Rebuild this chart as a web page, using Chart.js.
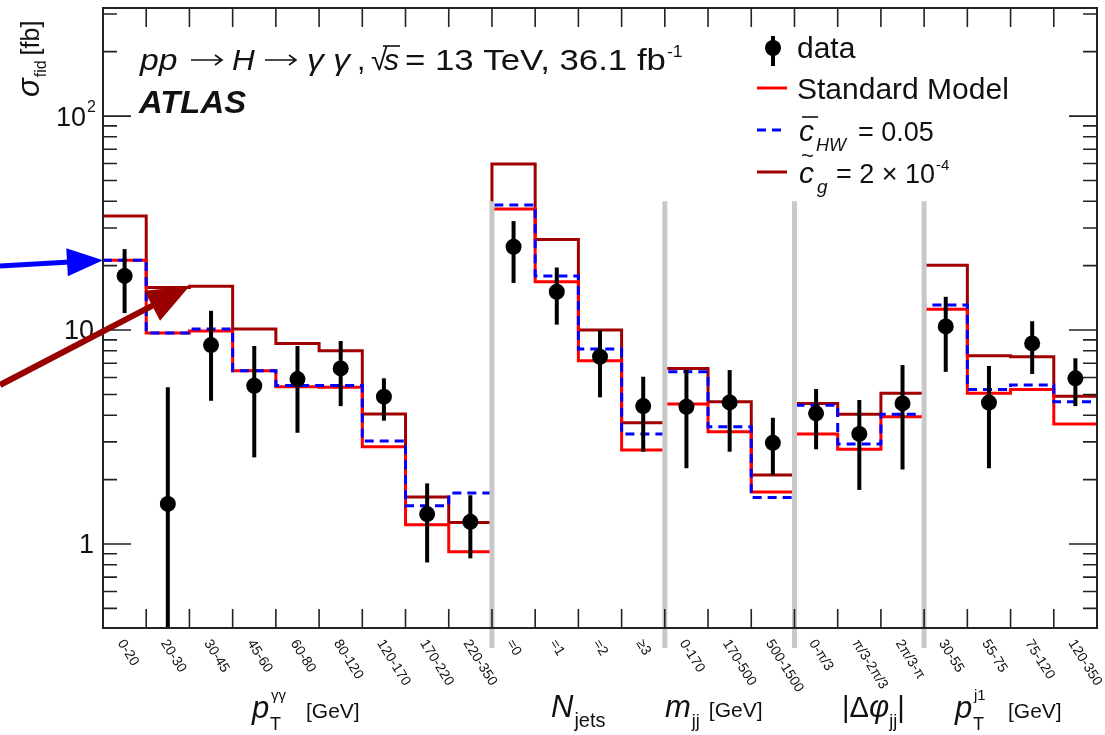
<!DOCTYPE html>
<html>
<head>
<meta charset="utf-8">
<script src="https://cdn.jsdelivr.net/npm/chart.js@4.4.0/dist/chart.umd.min.js"></script>
<style>
  body { margin: 0; background: #fff; }
</style>
</head>
<body>
<canvas id="chart" width="1105" height="735"></canvas>
<script>
// bin labels, one per bin
const binLabels = ["0-20", "20-30", "30-45", "45-60", "60-80", "80-120", "120-170", "170-220", "220-350",
  "=0", "=1", "=2", "\u22653",
  "0-170", "170-500", "500-1500",
  "0-\u03c0/3", "\u03c0/3-2\u03c0/3", "2\u03c0/3-\u03c0",
  "30-55", "55-75", "75-120", "120-350"];
// bin index where each new variable starts (gray separators)
const sectionEdges = [9, 13, 16, 19];

const smValues  = [21.2, 9.7, 9.9, 6.45, 5.43, 5.4, 2.85, 1.23, 0.92, 36.8, 16.8, 7.19, 2.75, 4.51, 3.35, 1.75, 3.27, 2.77, 3.93, 12.5, 5.06, 5.28, 3.64];
const chwValues = [21.2, 9.7, 10.1, 6.45, 5.5, 5.5, 3.03, 1.51, 1.73, 38.4, 17.9, 8.15, 3.27, 6.38, 3.53, 1.65, 4.45, 2.93, 4.04, 13.1, 5.28, 5.53, 4.62];
const cgValues  = [34.1, 15.8, 16.0, 10.1, 8.66, 8.0, 4.05, 1.66, 1.26, 59.7, 26.5, 10.0, 3.69, 6.62, 4.62, 2.10, 4.54, 4.04, 5.06, 20.1, 7.59, 7.5, 4.91];
const dataValues = [17.9, 1.54, 8.51, 5.49, 5.9, 6.62, 4.88, 1.38, 1.27, 24.5, 15.1, 7.5, 4.41, 4.38, 4.59, 2.97, 4.08, 3.27, 4.54, 10.4, 4.58, 8.66, 5.95];
const dataHigh  = [23.9, 5.41, 12.3, 8.42, 8.42, 8.89, 5.95, 1.92, 1.69, 32.3, 19.6, 10.0, 6.05, 6.5, 6.5, 3.89, 5.3, 4.71, 6.86, 14.3, 6.79, 11.0, 7.38];
const dataLow   = [12.0, 0.1, 4.67, 2.54, 3.31, 4.41, 3.77, 0.82, 0.857, 16.6, 10.6, 4.85, 2.70, 2.26, 2.70, 2.10, 2.77, 1.79, 2.23, 6.38, 2.26, 6.23, 4.41];

const yMin = 0.405, yMax = 320;

const FONT = '"Liberation Sans", Arial, sans-serif';

// histogram outline: one point per bin edge
function steps(vals) {
  const pts = vals.map((v, i) => ({ x: i, y: v }));
  pts.push({ x: vals.length, y: vals[vals.length - 1] });
  return pts;
}

function rich(ctx, x, y, parts) {
  // parts: [text, font, dy, dx]
  for (const p of parts) {
    ctx.font = p[1];
    x += p[3] || 0;
    ctx.fillText(p[0], x, y + (p[2] || 0));
    x += ctx.measureText(p[0]).width;
  }
  return x;
}

// text stretched horizontally, returns end x
function wide(ctx, s, x, y, font, sx) {
  ctx.save();
  ctx.font = font;
  ctx.translate(x, y);
  ctx.scale(sx, 1);
  ctx.fillText(s, 0, 0);
  const w = ctx.measureText(s).width * sx;
  ctx.restore();
  return x + w;
}

function textArrow(ctx, x0, x1, y) {
  ctx.beginPath();
  ctx.moveTo(x0, y); ctx.lineTo(x1, y);
  ctx.moveTo(x1 - 7, y - 5); ctx.lineTo(x1, y); ctx.lineTo(x1 - 7, y + 5);
  ctx.stroke();
}

function arrow(ctx, x0, y0, x1, y1, color, w, headLen, headW) {
  const a = Math.atan2(y1 - y0, x1 - x0);
  ctx.save();
  ctx.strokeStyle = color;
  ctx.fillStyle = color;
  ctx.lineWidth = w;
  ctx.beginPath();
  ctx.moveTo(x0, y0);
  ctx.lineTo(x1 - headLen * 0.8 * Math.cos(a), y1 - headLen * 0.8 * Math.sin(a));
  ctx.stroke();
  ctx.translate(x1, y1);
  ctx.rotate(a);
  ctx.beginPath();
  ctx.moveTo(0, 0);
  ctx.lineTo(-headLen, -headW);
  ctx.lineTo(-headLen, headW);
  ctx.closePath();
  ctx.fill();
  ctx.restore();
}

const decor = {
  id: "decor",
  beforeDatasetDraw(chart, args) {
    if (args.index !== 0) return;
    const { ctx, chartArea: ca, scales: { x, y } } = chart;
    ctx.save();
    ctx.beginPath();
    ctx.rect(ca.left, ca.top, ca.width, ca.height);
    ctx.clip();
    ctx.strokeStyle = "#000";
    ctx.lineWidth = 4;
    dataValues.forEach((v, i) => {
      const px = x.getPixelForValue(i + 0.5);
      ctx.beginPath();
      ctx.moveTo(px, y.getPixelForValue(dataHigh[i]));
      ctx.lineTo(px, y.getPixelForValue(dataLow[i]));
      ctx.stroke();
    });
    ctx.restore();
  },
  afterDatasetsDraw(chart) {
    const { ctx, chartArea: ca, scales: { x, y } } = chart;
    ctx.save();
    ctx.strokeStyle = "#c8c8c8";
    ctx.lineWidth = 5;
    sectionEdges.forEach(e => {
      const px = x.getPixelForValue(e);
      ctx.beginPath();
      ctx.moveTo(px, y.getPixelForValue(40));
      ctx.lineTo(px, ca.bottom + 20);
      ctx.stroke();
    });
    ctx.restore();
  },
  afterDraw(chart) {
    const { ctx, chartArea: ca, scales: { x, y } } = chart;
    ctx.save();
    // frame
    ctx.strokeStyle = "#222";
    ctx.lineWidth = 2;
    ctx.strokeRect(ca.left, ca.top, ca.width, ca.height);
    ctx.lineWidth = 1.6;
    // x ticks at bin edges
    for (let i = 1; i < binLabels.length; i++) {
      const px = x.getPixelForValue(i);
      ctx.beginPath();
      ctx.moveTo(px, ca.bottom); ctx.lineTo(px, ca.bottom - 19);
      ctx.moveTo(px, ca.top); ctx.lineTo(px, ca.top + 19);
      ctx.stroke();
    }
    // y ticks, log
    for (let d = -1; d <= 2; d++) {
      for (let m = 1; m <= 9; m++) {
        const v = m * Math.pow(10, d);
        if (v < yMin || v > yMax) continue;
        const py = y.getPixelForValue(v);
        const len = m === 1 ? 28 : 14;
        ctx.beginPath();
        ctx.moveTo(ca.left, py); ctx.lineTo(ca.left + len, py);
        ctx.moveTo(ca.right, py); ctx.lineTo(ca.right - len, py);
        ctx.stroke();
      }
    }
    ctx.fillStyle = "#111";
    // y tick labels
    ctx.textBaseline = "middle";
    ctx.textAlign = "right";
    ctx.font = "27px " + FONT;
    ctx.fillText("1", 94, y.getPixelForValue(1) + 2);
    ctx.fillText("10", 94, y.getPixelForValue(10) + 2);
    ctx.font = "16px " + FONT;
    ctx.fillText("2", 96, y.getPixelForValue(100) - 8);
    ctx.font = "27px " + FONT;
    ctx.fillText("10", 86, y.getPixelForValue(100) + 2);

    // y title
    ctx.save();
    ctx.translate(39, 97);
    ctx.rotate(-Math.PI / 2);
    ctx.textAlign = "left";
    ctx.textBaseline = "alphabetic";
    rich(ctx, 0, 0, [
      ["\u03c3", "italic 31px " + FONT, 0],
      ["fid", "16px " + FONT, 7, 1],
      ["[fb]", "25px " + FONT, 0, 5]
    ]);
    ctx.restore();

    // x tick labels, rotated
    ctx.font = "14px " + FONT;
    ctx.textAlign = "left";
    ctx.textBaseline = "middle";
    binLabels.forEach((lab, i) => {
      const px = x.getPixelForValue(i + 0.5);
      ctx.save();
      ctx.translate(px - 4, ca.bottom + 13);
      ctx.rotate(58 * Math.PI / 180);
      ctx.fillText(lab, 0, 0);
      ctx.restore();
    });

    // x axis titles
    ctx.textAlign = "left";
    ctx.textBaseline = "alphabetic";
    const big = "italic 31px " + FONT;
    const gev = "21px " + FONT;
    const sub = "18px " + FONT;
    rich(ctx, 252, 718, [["p", big]]);
    rich(ctx, 270, 730, [["T", sub]]);
    rich(ctx, 271, 700, [["\u03b3\u03b3", "15px " + FONT]]);
    rich(ctx, 306, 718, [["[GeV]", gev]]);

    rich(ctx, 551, 717, [["N", big], ["jets", "20px " + FONT, 10, 1]]);
    rich(ctx, 665, 717, [["m", big], ["jj", sub, 10, 1], ["[GeV]", gev, 0, 9]]);
    rich(ctx, 842, 717, [["|\u0394", "29px " + FONT], ["\u03c6", big], ["jj", sub, 10, 0], ["|", "29px " + FONT]]);
    rich(ctx, 955, 718, [["p", big]]);
    rich(ctx, 973, 730, [["T", sub]]);
    rich(ctx, 974, 700, [["j1", "15px " + FONT]]);
    rich(ctx, 1008, 718, [["[GeV]", gev]]);

    // header
    const hf = "30px " + FONT, hi = "italic 30px " + FONT;
    const hy = 70;
    ctx.strokeStyle = "#111";
    ctx.lineWidth = 1.6;
    wide(ctx, "pp", 140, hy, hi, 1.12);
    textArrow(ctx, 191, 222, hy - 10);
    wide(ctx, "H", 232, hy, hi, 1.05);
    textArrow(ctx, 265, 296, hy - 10);
    wide(ctx, "\u03b3 \u03b3", 307, hy, hi, 1.12);
    wide(ctx, ",", 357, hy, hf, 1);
    wide(ctx, "\u221a", 371, hy, hf, 1);
    ctx.font = hi;
    const sw = ctx.measureText("s").width;
    ctx.fillText("s", 384, hy);
    ctx.beginPath(); ctx.moveTo(383, 46); ctx.lineTo(384 + sw + 1, 46); ctx.stroke();
    const he = wide(ctx, "= 13 TeV, 36.1 fb", 405, hy, hf, 1.16);
    wide(ctx, "-1", he + 1, hy - 13, "16px " + FONT, 1.1);
    wide(ctx, "ATLAS", 139, 113, "bold italic 31px " + FONT, 1.06);

    // legend
    ctx.strokeStyle = "#000";
    ctx.fillStyle = "#000";
    ctx.lineWidth = 4;
    ctx.beginPath(); ctx.moveTo(773, 36); ctx.lineTo(773, 66); ctx.stroke();
    ctx.beginPath(); ctx.arc(773, 48, 8, 0, 2 * Math.PI); ctx.fill();
    ctx.lineWidth = 3;
    ctx.strokeStyle = "#ff0000";
    ctx.beginPath(); ctx.moveTo(757, 88); ctx.lineTo(787, 88); ctx.stroke();
    ctx.strokeStyle = "#0000ff";
    ctx.setLineDash([9, 6]);
    ctx.beginPath(); ctx.moveTo(757, 130); ctx.lineTo(787, 130); ctx.stroke();
    ctx.setLineDash([]);
    ctx.strokeStyle = "#a00000";
    ctx.beginPath(); ctx.moveTo(757, 172); ctx.lineTo(787, 172); ctx.stroke();
    ctx.fillStyle = "#111";
    const lf = "30px " + FONT;
    rich(ctx, 797, 58, [["data", lf]]);
    rich(ctx, 797, 99, [["Standard Model", lf]]);
    rich(ctx, 799, 141, [["c", "italic 30px " + FONT]]);
    ctx.lineWidth = 1.6; ctx.strokeStyle = "#111";
    ctx.beginPath(); ctx.moveTo(802, 117); ctx.lineTo(818, 117); ctx.stroke();
    rich(ctx, 816, 151, [["HW", "italic 18px " + FONT]]);
    rich(ctx, 858, 141, [["= 0.05", "27px " + FONT]]);
    rich(ctx, 799, 183, [["c", "italic 30px " + FONT]]);
    rich(ctx, 801, 163, [["~", "22px " + FONT]]);
    rich(ctx, 817, 193, [["g", "italic 19px " + FONT]]);
    const le = rich(ctx, 836, 183, [["= 2 \u00d7 10", "27px " + FONT]]);
    rich(ctx, le + 1, 170, [["-4", "15px " + FONT]]);

    // annotation arrows
    arrow(ctx, 0, 266, x.getPixelForValue(0), y.getPixelForValue(smValues[0]), "#0000ff", 5, 36, 14);
    arrow(ctx, 0, 385, x.getPixelForValue(2), y.getPixelForValue(cgValues[2]), "#990000", 6, 42, 17);
    ctx.restore();
  }
};

new Chart(document.getElementById("chart"), {
  type: "line",
  data: {
    datasets: [
      {
        label: "data",
        data: dataValues.map((v, i) => ({ x: i + 0.5, y: v })),
        showLine: false,
        pointRadius: 8,
        pointBackgroundColor: "#000",
        pointBorderColor: "#000",
        pointBorderWidth: 0
      },
      {
        label: "cHW = 0.05",
        data: steps(chwValues),
        stepped: "before",
        borderColor: "#0000ff",
        borderWidth: 3,
        borderDash: [9, 6],
        pointRadius: 0,
        fill: false
      },
      {
        label: "Standard Model",
        data: steps(smValues),
        stepped: "before",
        borderColor: "#ff0000",
        borderWidth: 3,
        pointRadius: 0,
        fill: false
      },
      {
        label: "cg = 2e-4",
        data: steps(cgValues),
        stepped: "before",
        borderColor: "#a00000",
        borderWidth: 3,
        pointRadius: 0,
        fill: false
      }
    ]
  },
  options: {
    responsive: false,
    animation: false,
    layout: { padding: { left: 103, right: 5, top: 8, bottom: 107 } },
    plugins: {
      legend: { display: false },
      tooltip: { enabled: false }
    },
    scales: {
      x: { type: "linear", min: 0, max: binLabels.length, display: false },
      y: { type: "logarithmic", min: yMin, max: yMax, display: false }
    }
  },
  plugins: [decor]
});
</script>
</body>
</html>
